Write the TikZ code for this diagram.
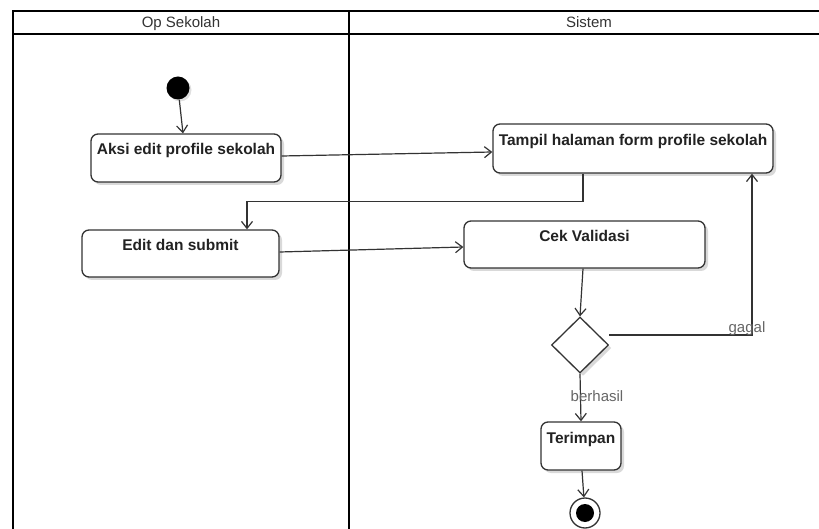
\documentclass[tikz,border=0pt]{standalone}
\usepackage{fontspec}
\setmainfont{Liberation Sans}
\usetikzlibrary{arrows.meta,shapes.geometric,shadows,calc}
\definecolor{ln}{HTML}{333333}
\definecolor{txt}{HTML}{222222}
\definecolor{lbltxt}{HTML}{666666}
\begin{document}
\begin{tikzpicture}[x=1pt,y=-1pt,
  act/.style={draw=ln, line width=1.3pt, rounded corners=7pt, fill=white,
    drop shadow={shadow xshift=3pt, shadow yshift=-3pt, opacity=0.15, fill=black},
    font=\fontsize{15.5}{18}\selectfont\bfseries, text=txt,
    text height=11pt, text depth=17pt, inner sep=0pt},
  flow/.style={draw=ln, line width=1.2pt, -{Straight Barb[length=7pt,width=11pt,line width=1.2pt]}},
  lbl/.style={font=\fontsize{15}{18}\selectfont, text=lbltxt, inner sep=0pt, anchor=base},
  hdr/.style={font=\fontsize{15}{18}\selectfont, text=ln, inner sep=0pt, anchor=base},
  lane/.style={line width=2.5pt, draw=black}]
\useasboundingbox (0,0) rectangle (819,529);
\clip (0,0) rectangle (819,529);
\fill[white] (0,0) rectangle (819,529);
% swimlanes
\draw[lane] (13,11) rectangle (829,545);
\draw[lane] (13,34) -- (829,34);
\draw[lane] (349,11) -- (349,545);
\node[hdr] (h1) at (181,28) {Op Sekolah};
\node[hdr] (h2) at (589,28) {Sistem};
% nodes
\node[circle, fill=black, minimum size=23pt, inner sep=0pt,
  drop shadow={shadow xshift=2pt, shadow yshift=-2pt, opacity=0.12, fill=black}] (start) at (178,88) {};
\node[act, minimum width=190pt, minimum height=48pt] (aksi) at (186,158) {Aksi edit profile sekolah};
\node[act, minimum width=197pt, minimum height=47pt] (edit) at (180.5,253.5) {Edit dan submit};
\node[act, minimum width=280pt, minimum height=49pt] (tampil) at (633,148.5) {Tampil halaman form profile sekolah};
\node[act, minimum width=241pt, minimum height=47pt] (cek) at (584.5,244.5) {Cek Validasi};
\node[diamond, draw=ln, line width=1.3pt, fill=white, minimum width=57pt, minimum height=56pt, inner sep=0pt,
  drop shadow={shadow xshift=3pt, shadow yshift=-3pt, opacity=0.15, fill=black}] (dec) at (580,345) {};
\node[act, minimum width=80pt, minimum height=48pt] (terim) at (581,446) {Terimpan};
\node[circle, draw=ln, line width=1.3pt, fill=white, minimum size=30pt, inner sep=0pt] (end) at (585,513) {};
\fill[black] (end.center) circle (9pt);
% connectors
\draw[flow] (start) -- ([xshift=-3pt]aksi.north);
\draw[flow] ([yshift=2pt]aksi.east) -- ([yshift=-3.5pt]tampil.west);
\draw[flow] ([xshift=-50pt]tampil.south) -- ++(0,28) -| ([xshift=66.5pt]edit.north);
\draw[flow] ([yshift=1.5pt]edit.east) -- ([yshift=-2.5pt]cek.west);
\draw[flow] ([xshift=-1.5pt]cek.south) -- (dec.north);
\draw[flow] ([yshift=10pt]dec.east) -| ([xshift=119pt]tampil.south);
\draw[flow] (dec.south) -- (terim.north);
\draw[flow] ([xshift=1pt]terim.south) -- (end);
\node[lbl] (lgagal) at (747,332) {gagal};
\node[lbl] (lberhasil) at (597,401) {berhasil};
\end{tikzpicture}
\end{document}
